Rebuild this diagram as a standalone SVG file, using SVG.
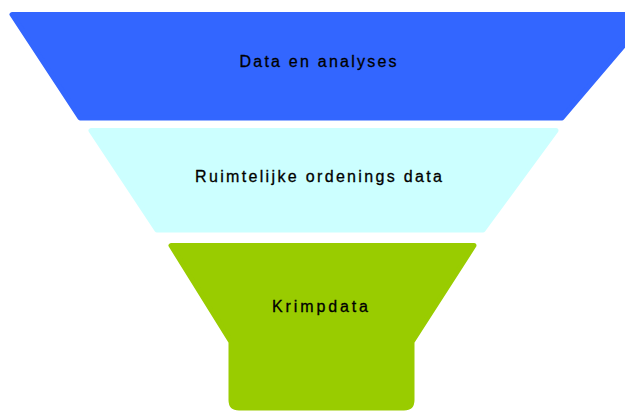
<svg xmlns="http://www.w3.org/2000/svg" width="625" height="412" viewBox="0 0 625 412">
  <style>
    .band { stroke-linejoin: round; stroke-width: 5; }
    .label { font-family: "Liberation Sans", Arial, sans-serif; font-size: 16px; fill: #000000; text-anchor: middle; stroke: #000000; stroke-width: 0.3; }
  </style>
  <rect width="625" height="412" fill="#ffffff"/>
  <!-- Funnel tiers, top to bottom -->
  <g id="tier-data-analyses">
    <path class="band" fill="#3366FF" stroke="#3366FF" d="M 12,14.5 L 650,14.5 L 562,118 L 80,118 Z"/>
    <text class="label" x="318" y="67" textLength="157" lengthAdjust="spacing">Data en analyses</text>
  </g>
  <g id="tier-ruimtelijke-ordening">
    <path class="band" fill="#CCFFFF" stroke="#CCFFFF" d="M 91,130.5 L 556,130.5 L 483,230 L 157,230 Z"/>
    <text class="label" x="318.5" y="182" textLength="247" lengthAdjust="spacing">Ruimtelijke ordenings data</text>
  </g>
  <g id="tier-krimpdata">
    <path class="band" fill="#99CC00" stroke="#99CC00" d="M 171,245.5 L 474,245.5 L 412,342 L 412,400 Q 412,408 404,408 L 239,408 Q 231,408 231,400 L 231,342 Z"/>
    <text class="label" x="320" y="312" textLength="96" lengthAdjust="spacing">Krimpdata</text>
  </g>
  <g id="connectors"/>
</svg>
